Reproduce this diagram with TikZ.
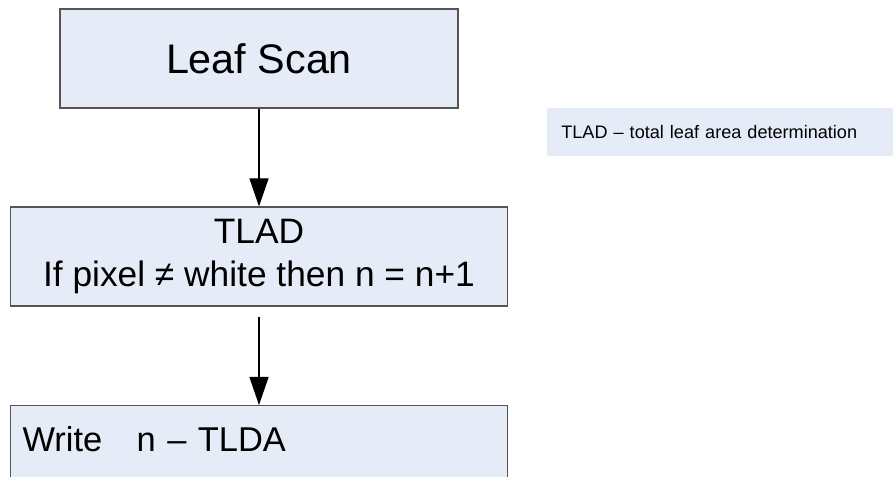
\documentclass[tikz,border=0pt]{standalone}
\usepackage{fontspec}
\setmainfont{Liberation Sans}
\usetikzlibrary{positioning, arrows.meta}
\definecolor{boxfill}{RGB}{230,236,247}
\definecolor{boxline}{RGB}{85,85,85}

\begin{document}
\begin{tikzpicture}[
  stepbox/.style={draw=boxline, line width=0.6pt, fill=boxfill, inner sep=0pt,
                  minimum width=9.94cm, minimum height=1.98cm},
  flow/.style={line width=0.6pt, -{Triangle[length=0.56cm, width=0.38cm]}},
  bigtext/.style={font=\fontsize{19.6}{24.5}\selectfont}]
 \useasboundingbox (0,0) rectangle (17.86,-9.54);
 % flow boxes
 \node[stepbox, minimum width=7.96cm, font=\fontsize{23.5}{28}\selectfont] (scan) at (5.18,-1.17) {Leaf Scan};
 \node[stepbox, align=center, font=\fontsize{20.1}{24.5}\selectfont] (tlad) at (5.18,-5.13) {TLAD\\If pixel ≠ white then n = n+1};
 \node[stepbox, bigtext, anchor=north, text width=9.46cm, align=left,
       text height=0.92cm, text depth=1.06cm] (write) at (5.18,-8.10) {Write\hspace{1em}n – TLDA};
 % legend
 \node[fill=boxfill, anchor=west, minimum height=0.96cm, text width=6.5cm, inner xsep=0.28cm,
       inner ysep=0pt, align=left, font=\fontsize{10.3}{12}\selectfont] (legend) at (10.94,-2.64)
       {TLAD – total leaf area determination};
 % arrows
 \draw[flow] (scan) -- (tlad);
 \draw[flow, shorten <=0.2cm] (tlad) -- (write);
\end{tikzpicture}
\end{document}
